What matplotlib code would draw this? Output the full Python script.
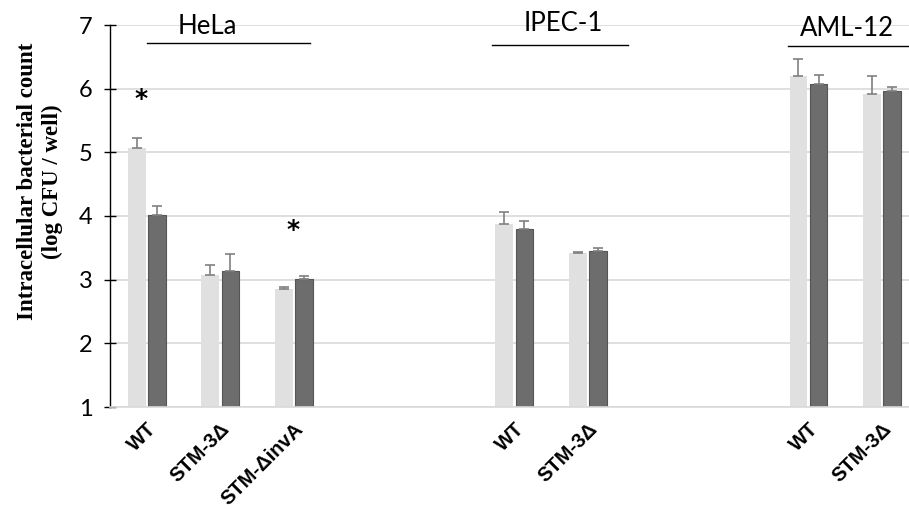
import matplotlib
matplotlib.use("Agg")
import matplotlib.pyplot as plt
import numpy as np

# 11 slots on the x axis, empty ones separate the cell lines
labels = ["WT", "STM-3Δ", "STM-ΔinvA", "", "", "WT", "STM-3Δ", "", "", "WT", "STM-3Δ"]
light = [5.07, 3.07, 2.86, np.nan, np.nan, 3.87, 3.42, np.nan, np.nan, 6.20, 5.92]
light_err = [0.16, 0.16, 0.03, 0, 0, 0.20, 0.02, 0, 0, 0.26, 0.28]
dark = [4.02, 3.14, 3.01, np.nan, np.nan, 3.79, 3.45, np.nan, np.nan, 6.08, 5.96]
dark_err = [0.13, 0.26, 0.05, 0, 0, 0.13, 0.05, 0, 0, 0.13, 0.07]

groups = ["HeLa", "IPEC-1", "AML-12"]
group_text_x = [0.82, 5.67, 9.52]
group_text_y = [6.97, 7.03, 6.95]
group_line = [(0.0, 2.22, 6.71), (4.69, 6.54, 6.69), (8.72, 10.6, 6.67)]

stars = [(-0.08, 5.84), (1.99, 3.78)]

sans = ["Lato", "DejaVu Sans"]
bold_sans = ["Liberation Sans", "DejaVu Sans"]

fig = plt.figure(figsize=(9.09, 5.09), dpi=100)
ax = fig.add_axes([110 / 909, 1 - 407 / 509, 808.75 / 909, 382 / 509])

x = np.arange(len(labels))
w = 0.24
off = 0.137

ax.bar(x - off, light, w, color="#e0e0e0", zorder=2)
ax.bar(x + off, dark, w, color="#6d6d6d", edgecolor="#555555", linewidth=0.8, zorder=2)
ax.errorbar(x - off, light, yerr=[np.zeros(len(x)), light_err], fmt="none",
            ecolor="#808080", elinewidth=1.2, capsize=3.5, capthick=1.2, zorder=3)
ax.errorbar(x + off, dark, yerr=[np.zeros(len(x)), dark_err], fmt="none",
            ecolor="#808080", elinewidth=1.2, capsize=3.5, capthick=1.2, zorder=3)

ax.set_xlim(-0.5, 10.5)
ax.set_ylim(1, 7)
ax.set_yticks(range(1, 8))
ax.yaxis.grid(True, color="#d9d9d9", linewidth=1.2, zorder=0)
ax.set_axisbelow(True)

for s in ["top", "right"]:
    ax.spines[s].set_visible(False)
ax.spines["bottom"].set_color("#d9d9d9")
ax.spines["bottom"].set_linewidth(1.2)
ax.spines["left"].set_color("black")
ax.spines["left"].set_linewidth(1.0)

ax.tick_params(axis="y", direction="inout", length=9, width=1, labelsize=17, pad=8)
ax.tick_params(axis="x", length=0, pad=9)
for t in ax.get_yticklabels():
    t.set_family(sans)

ax.set_xticks(x)
ax.set_xticklabels(labels, rotation=45, ha="right", rotation_mode="anchor",
                   fontsize=14.5, fontweight="bold", family=bold_sans)

ax.set_ylabel("Intracellular bacterial count\n(log CFU / well)", family="Liberation Serif",
              fontweight="bold", fontsize=16.5, linespacing=1.25)
ax.yaxis.set_label_coords(-0.058, 0.59)

for name, tx, ty in zip(groups, group_text_x, group_text_y):
    ax.text(tx, ty, name, ha="center", va="center", fontsize=18.5, family=sans, clip_on=False)
for x0, x1, ly in group_line:
    ax.plot([x0, x1], [ly, ly], color="black", linewidth=1.0, clip_on=False)

for sx, sy in stars:
    ax.text(sx, sy, "*", ha="center", va="center", fontsize=18, fontweight="bold",
            family="DejaVu Sans", clip_on=False)

fig.savefig("out.png", dpi=100)
